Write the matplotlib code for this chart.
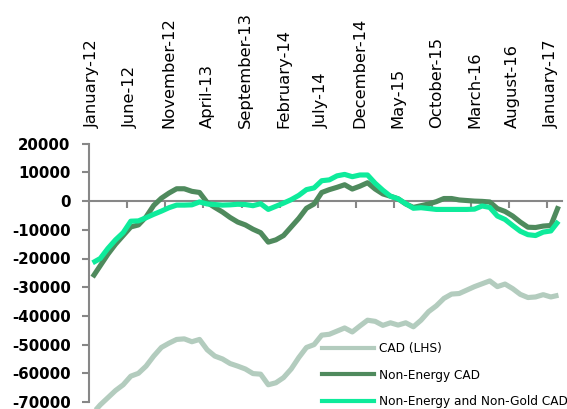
import matplotlib
matplotlib.use("Agg")
import matplotlib.pyplot as plt
from matplotlib.lines import Line2D

plt.rcParams['axes.unicode_minus'] = False
plt.rcParams['font.family'] = ['DejaVu Sans']

# Monthly observations, January 2012 to February 2017
months = ["January", "February", "March", "April", "May", "June", "July",
          "August", "September", "October", "November", "December"]
periods = [f"{months[m]}-{12 + y}" for y in range(6) for m in range(12)][:62]

cad_lhs = [-74000, -71000, -68500, -66000, -64000, -61000, -60000, -57500,
           -54000, -51000, -49500, -48200, -48000, -49000, -48200, -51800,
           -54000, -55000, -56600, -57500, -58500, -60100, -60300, -64000,
           -63300, -61500, -58500, -54500, -51000, -50000, -46700, -46400,
           -45300, -44200, -45600, -43500, -41500, -41900, -43300, -42400,
           -43200, -42400, -43800, -41500, -38500, -36500, -33900, -32400,
           -32200, -31000, -29800, -28800, -27800, -29800, -28900, -30500,
           -32500, -33600, -33400, -32600, -33400, -32800]

non_energy = [-26500, -22500, -18500, -15000, -12000, -9000, -8300, -5500,
              -1500, 1000, 2800, 4300, 4300, 3400, 3000, -500,
              -2200, -3800, -5700, -7300, -8300, -9800, -11000, -14300,
              -13500, -12000, -9000, -6000, -2500, -1000, 3000, 4000,
              4800, 5700, 4200, 5200, 6400, 4200, 2500, 1700,
              800, -1000, -2200, -1600, -1000, -200, 900, 900,
              400, 200, 0, -100, -300, -2600, -3600, -5200,
              -7300, -9100, -9200, -8700, -8500, -1800]

non_energy_gold = [-21500, -20000, -16500, -13500, -11000, -7000, -6900, -5800,
                   -4600, -3500, -2300, -1400, -1400, -1300, -300, -1000,
                   -1200, -1400, -1300, -1100, -1200, -1600, -900, -2900,
                   -1800, -700, 500, 2000, 4000, 4600, 7100, 7400,
                   8800, 9300, 8500, 9100, 9100, 6200, 3800, 1700,
                   800, -900, -2500, -2300, -2600, -2900, -2900, -2900,
                   -2900, -2900, -2800, -1700, -2200, -5200, -6400, -8500,
                   -10500, -11700, -12000, -10800, -10400, -7000]

series_names = ["CAD (LHS)", "Non-Energy CAD", "Non-Energy and Non-Gold CAD"]
series_colors = ["#B3CCBE", "#4F8A5D", "#0EEB9B"]

y_ticks = list(range(-70000, 20001, 10000))

fig = plt.figure(figsize=(5.67, 4.09), dpi=100)
ax = fig.add_axes([88.8 / 567, 1 - 402 / 409, (562.3 - 88.8) / 567, (402 - 143.7) / 409])

x = list(range(len(periods)))
for values, color in zip([cad_lhs, non_energy, non_energy_gold], series_colors):
    ax.plot(x, values, color=color, lw=3.7, solid_joinstyle='round',
            solid_capstyle='butt', clip_on=False, zorder=3)

ax.set_xlim(-0.5, len(periods) - 0.5)
ax.set_ylim(-70000, 20000)

axis_gray = "#878787"
for side in ['top', 'right']:
    ax.spines[side].set_visible(False)
ax.spines['left'].set_color(axis_gray)
ax.spines['left'].set_linewidth(1.5)
ax.spines['bottom'].set_position(('data', 0))
ax.spines['bottom'].set_color(axis_gray)
ax.spines['bottom'].set_linewidth(1.5)
ax.spines['bottom'].set_zorder(2)

ax.set_yticks(y_ticks)
ax.set_yticklabels([str(v) for v in y_ticks])
ax.tick_params(axis='y', direction='out', length=5, width=1.5, color=axis_gray,
               pad=8, labelsize=10.8, labelcolor='black')
for lbl in ax.get_yticklabels():
    lbl.set_fontweight('bold')

label_pos = list(range(0, len(periods), 5))
ax.set_xticks(label_pos)
ax.set_xticklabels([periods[i] for i in label_pos], rotation=90)
ax.set_xticks([p + 4.5 for p in range(0, len(periods) - 5, 5)], minor=True)
ax.tick_params(axis='x', which='major', length=0, top=False, bottom=False,
               labeltop=True, labelbottom=False, pad=11, labelsize=11.8)
ax.tick_params(axis='x', which='minor', direction='out', length=5, width=1.5,
               color=axis_gray, bottom=True, top=False)

handles = [Line2D([0], [0], color=c, lw=3.0) for c in series_colors]
fig.legend(handles, series_names, loc='upper left',
           bbox_to_anchor=(322 / 567, 1 - 342 / 409), frameon=False,
           fontsize=8.7, handlelength=4.3, handletextpad=0.4, labelspacing=1.12,
           borderpad=0, borderaxespad=0)

fig.savefig("out.png", dpi=100)
